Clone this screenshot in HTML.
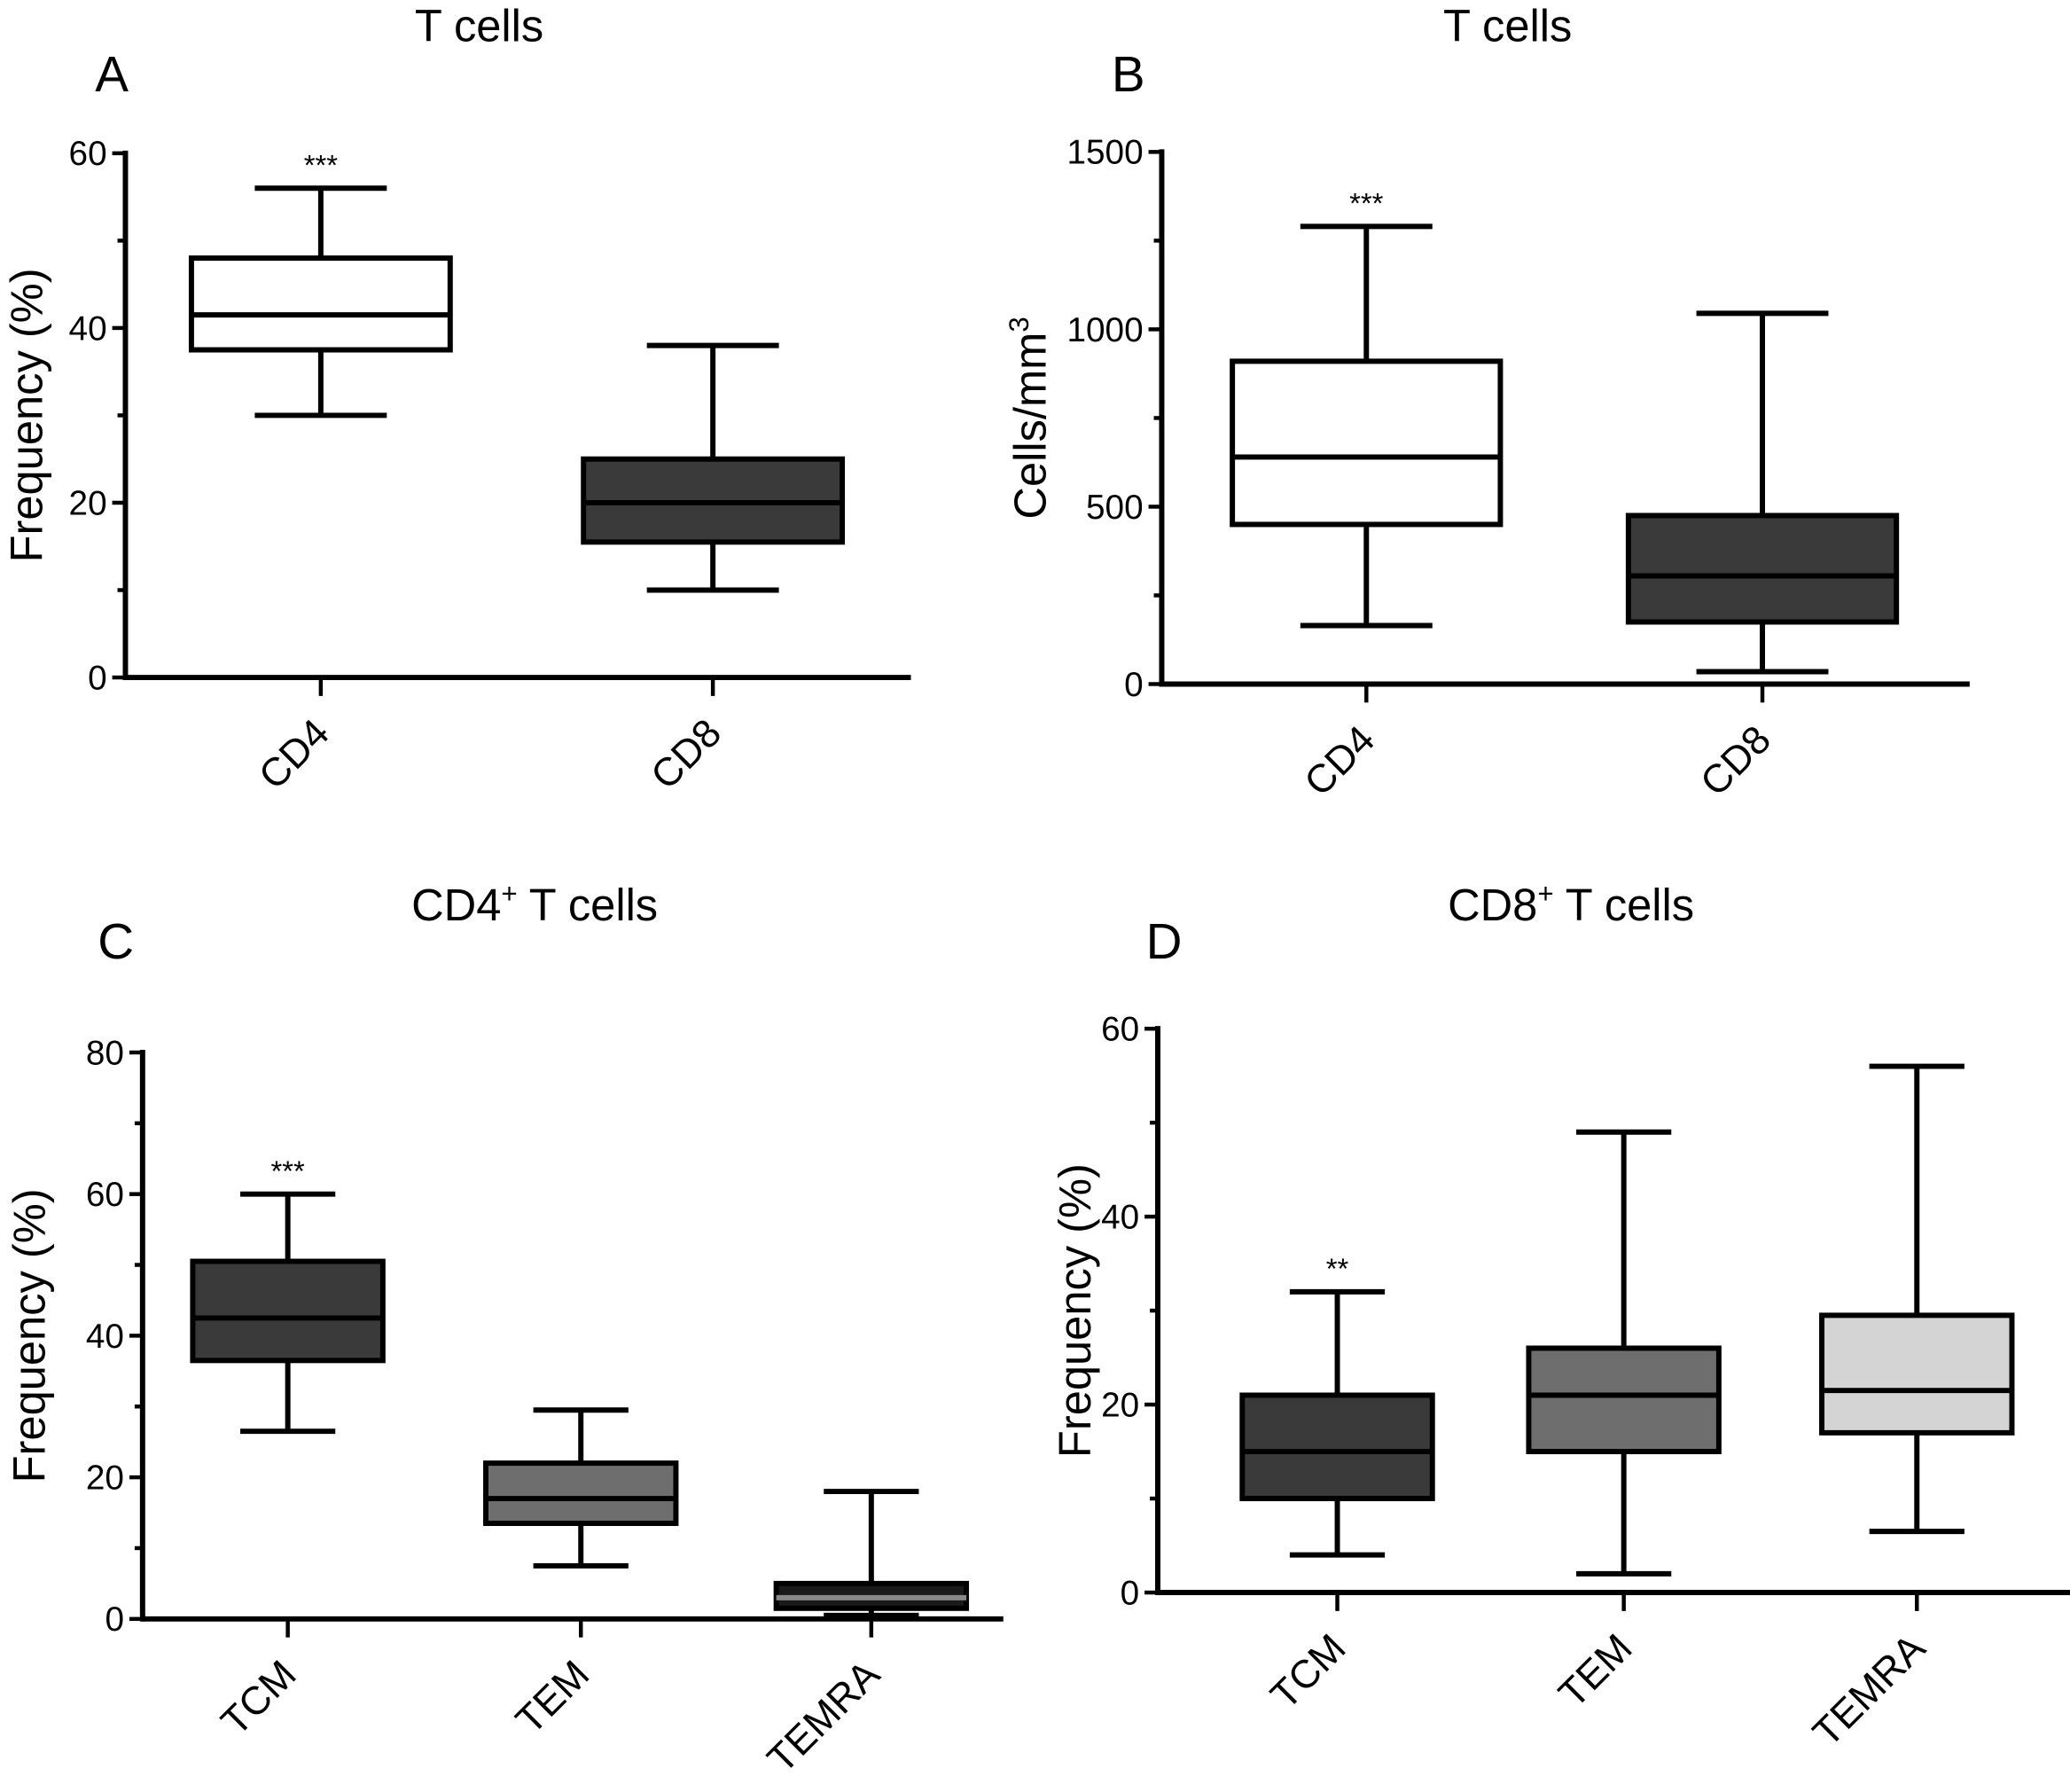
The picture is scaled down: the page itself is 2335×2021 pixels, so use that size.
<!DOCTYPE html>
<html><head><meta charset="utf-8"><style>
html,body{margin:0;padding:0;background:#fff}
svg{display:block}
text{font-family:"Liberation Sans",Arial,sans-serif;fill:#000}
</style></head><body>
<svg id="fig" width="2335" height="2021" viewBox="0 0 1568 1357">
<text x="363" y="31" font-size="34" text-anchor="middle">T cells</text>
<text x="1142" y="31" font-size="34" text-anchor="middle">T cells</text>
<text x="405" y="697" font-size="34" text-anchor="middle">CD4<tspan font-size="21" dy="-13">+</tspan><tspan dy="13"> T cells</tspan></text>
<text x="1190" y="697" font-size="34" text-anchor="middle">CD8<tspan font-size="21" dy="-13">+</tspan><tspan dy="13"> T cells</tspan></text>
<text x="72" y="69" font-size="38">A</text>
<text x="842" y="69" font-size="38">B</text>
<text x="74" y="726" font-size="38">C</text>
<text x="868" y="726" font-size="38">D</text>
</svg>
<script>
// Panel A
const aCats=["CD4","CD8"];
const aMin=[30,10], aQ1=[37.5,15.5], aMed=[41.5,20], aQ3=[48,25], aMax=[56,38];
const aTicks=[0,20,40,60];
// Panel B
const bCats=["CD4","CD8"];
const bMin=[165,35], bQ1=[450,175], bMed=[640,305], bQ3=[910,475], bMax=[1290,1045];
const bTicks=[0,500,1000,1500];
// Panel C
const cCats=["TCM","TEM","TEMRA"];
const cMin=[26.5,7.5,0.5], cQ1=[36.5,13.5,1.5], cMed=[42.5,17,3], cQ3=[50.5,22,5], cMax=[60,29.5,18];
const cTicks=[0,20,40,60,80];
// Panel D
const dCats=["TCM","TEM","TEMRA"];
const dMin=[4,2,6.5], dQ1=[10,15,17], dMed=[15,21,21.5], dQ3=[21,26,29.5], dMax=[32,49,56];
const dTicks=[0,20,40,60];

const NS="http://www.w3.org/2000/svg";
const svg=document.getElementById('fig');
function mk(tag,attrs,parent){const e=document.createElementNS(NS,tag);for(const k in attrs)e.setAttribute(k,attrs[k]);(parent||svg).appendChild(e);return e;}

function panel(cfg){
  const g=mk('g',{});
  
  
  const yMax=cfg.ticks[cfg.ticks.length-1];
  const y=v=>cfg.y0-(v/yMax)*(cfg.y0-cfg.y1);
  const x=i=>cfg.xs[i];
  const ya=mk('line',{x1:cfg.ax,y1:cfg.y1-2,x2:cfg.ax,y2:cfg.y0+2,stroke:'#000','stroke-width':4},g);
  
  
  const xa=mk('line',{x1:cfg.ax,y1:cfg.y0,x2:cfg.xEnd,y2:cfg.y0,stroke:'#000','stroke-width':4},g);
  
  
  for(let t=0;t<cfg.ticks.length;t++){
    const v=cfg.ticks[t];
    mk('line',{x1:cfg.ax-10,y1:y(v),x2:cfg.ax,y2:y(v),stroke:'#000','stroke-width':3},g);
    const tl=mk('text',{x:cfg.ax-14,y:y(v)+9,'font-size':26,'text-anchor':'end'},g);
    tl.textContent=v;
    
    
    if(t<cfg.ticks.length-1){const m=(v+cfg.ticks[t+1])/2;
      mk('line',{x1:cfg.ax-6,y1:y(m),x2:cfg.ax,y2:y(m),stroke:'#000','stroke-width':3},g);}
  }
  const yt=mk('text',{x:0,y:0,'font-size':34,'text-anchor':'middle',transform:`translate(${cfg.ytx},${(cfg.y0+cfg.y1)/2}) rotate(-90)`},g);
  yt.innerHTML=cfg.ytitle;
  
  
  const hw=cfg.bw/2, cw=cfg.cw/2;
  cfg.cats.forEach((c,i)=>{
    const cx=x(i);
    mk('line',{x1:cx,y1:cfg.y0,x2:cx,y2:cfg.y0+14,stroke:'#000','stroke-width':3},g);
    const lab=mk('text',{x:0,y:0,'font-size':30,'text-anchor':'end',transform:`translate(${cx+8},${cfg.y0+44}) rotate(-45)`},g);
    lab.textContent=c;
    
    
    const bg=mk('g',{},g);
    
    
    mk('line',{x1:cx,y1:y(cfg.max[i]),x2:cx,y2:y(cfg.min[i]),stroke:'#000','stroke-width':4},bg);
    mk('line',{x1:cx-cw,y1:y(cfg.max[i]),x2:cx+cw,y2:y(cfg.max[i]),stroke:'#000','stroke-width':4},bg);
    mk('line',{x1:cx-cw,y1:y(cfg.min[i]),x2:cx+cw,y2:y(cfg.min[i]),stroke:'#000','stroke-width':4},bg);
    mk('rect',{x:cx-hw,y:y(cfg.q3[i]),width:cfg.bw,height:y(cfg.q1[i])-y(cfg.q3[i]),fill:cfg.fills[i],stroke:'#000','stroke-width':4},bg);
    mk('line',{x1:cx-hw,y1:y(cfg.med[i]),x2:cx+hw,y2:y(cfg.med[i]),stroke:cfg.medc?cfg.medc[i]:'#000','stroke-width':4},bg);
    if(cfg.stars&&cfg.stars[i]){
      const s=mk('text',{x:cx,y:y(cfg.max[i])-10,'font-size':22,'text-anchor':'middle'},g);
      s.textContent=cfg.stars[i];
      
      
    }
  });
}
panel({name:'panel-a',cats:aCats,min:aMin,q1:aQ1,med:aMed,q3:aQ3,max:aMax,ticks:aTicks,ax:95,y0:513,y1:116,xEnd:690,xs:[243,540],bw:196,cw:100,ytx:32,ytitle:'Frequency (%)',fills:['#fff','#3a3a3a'],stars:['***','']});
panel({name:'panel-b',cats:bCats,min:bMin,q1:bQ1,med:bMed,q3:bQ3,max:bMax,ticks:bTicks,ax:880,y0:518,y1:115,xEnd:1492,xs:[1035,1335],bw:203,cw:100,ytx:792,ytitle:'Cells/mm<tspan font-size="21" dy="-13">3</tspan>',fills:['#fff','#3a3a3a'],stars:['***','']});
panel({name:'panel-c',cats:cCats,min:cMin,q1:cQ1,med:cMed,q3:cQ3,max:cMax,ticks:cTicks,ax:108,y0:1226,y1:797,xEnd:760,xs:[218,440,660],bw:144,cw:72,ytx:34,ytitle:'Frequency (%)',fills:['#3a3a3a','#6e6e6e','#1a1a1a'],medc:['#000','#000','#888'],stars:['***','','']});
panel({name:'panel-d',cats:dCats,min:dMin,q1:dQ1,med:dMed,q3:dQ3,max:dMax,ticks:dTicks,ax:877,y0:1206,y1:779,xEnd:1568,xs:[1013,1230,1452],bw:144,cw:72,ytx:826,ytitle:'Frequency (%)',fills:['#3a3a3a','#6e6e6e','#d4d4d4'],stars:['**','','']});
</script>
</body></html>
